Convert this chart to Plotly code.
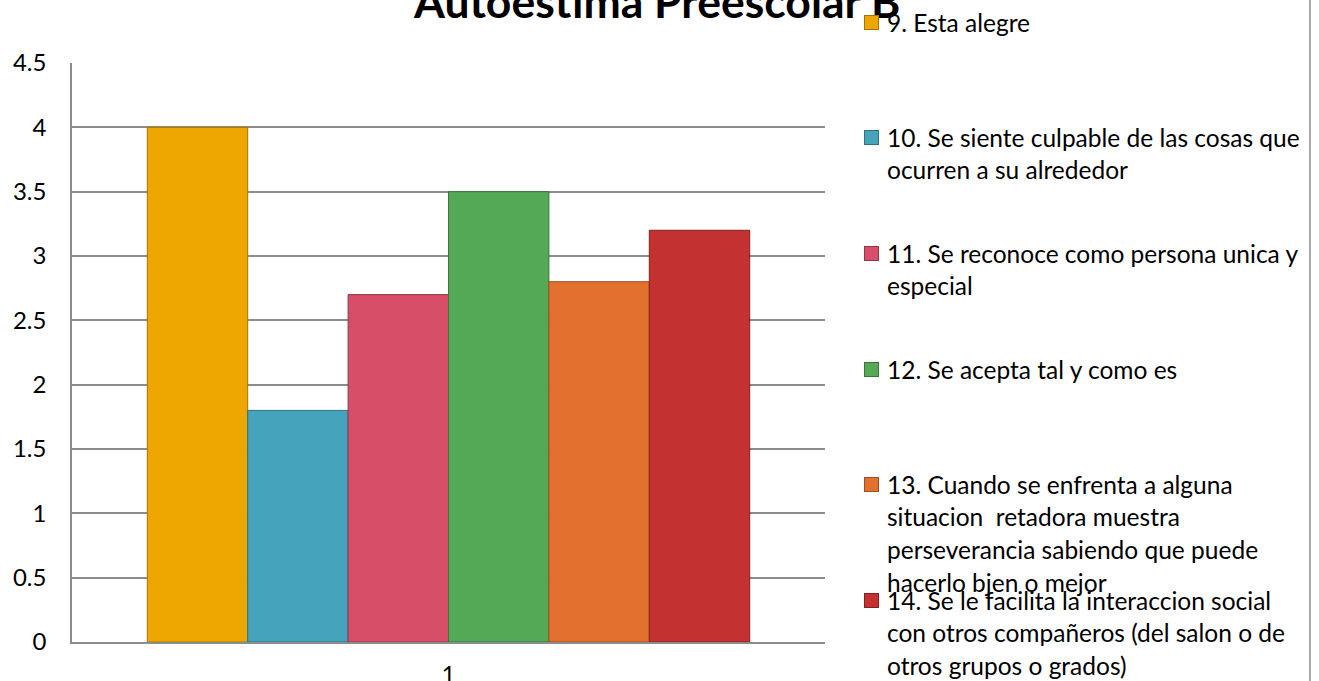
import plotly.graph_objects as go

# ---- data ----
categories = ["1"]
series_names = [
    "9. Esta alegre",
    "10. Se siente culpable de las cosas que\nocurren a su alrededor",
    "11. Se reconoce como persona unica y\nespecial",
    "12. Se acepta tal y como es",
    "13. Cuando se enfrenta a alguna\nsituacion  retadora muestra\nperseverancia sabiendo que puede\nhacerlo bjen o mejor",
    "14. Se le facilita la interaccion social\ncon otros compañeros (del salon o de\notros grupos o grados)",
]
series_values = [4.0, 1.8, 2.7, 3.5, 2.8, 3.2]
y_ticks = [0, 0.5, 1, 1.5, 2, 2.5, 3, 3.5, 4, 4.5]
y_tick_labels = ["0", "0.5", "1", "1.5", "2", "2.5", "3", "3.5", "4", "4.5"]
title_text = "Autoestima Preescolar B"

# ---- styling ----
colors = ["#EDA500", "#46A3BC", "#D64E67", "#53A956", "#E2712F", "#C33131"]
edge_colors = ["#A87400", "#2F7285", "#93364A", "#39753B", "#9E4E22", "#862020"]
FONT = "Lato, Carlito, Calibri, sans-serif"

W, H = 1319, 681
L, R, T, B = 72, 825, 63, 642  # plot area in pixels


def px_x(px):
    return (px - L) / (R - L)


def px_y(py):
    return (B - py) / (B - T)


fig = go.Figure()
for name, val, c, ec in zip(series_names, series_values, colors, edge_colors):
    fig.add_trace(go.Bar(
        x=categories, y=[val], name=name.replace("\n", " "),
        marker=dict(color=c, line=dict(color=ec, width=1)),
        showlegend=False,
    ))

annotations = []
# title
annotations.append(dict(
    text="<b>%s</b>" % title_text, x=px_x(656), y=px_y(1), xref="paper", yref="paper",
    xanchor="center", yanchor="middle", showarrow=False,
    font=dict(family=FONT, size=44.5, color="#000000"),
))

# legend (manual, as in the original overlapping layout)
first_line_y = [22, 137, 253, 369, 484, 600]
line_pitch = 32.7
for name, c, ec, y0 in zip(series_names, colors, edge_colors, first_line_y):
    annotations.append(dict(
        text=" ", x=px_x(871.5), y=px_y(y0), xref="paper", yref="paper",
        xanchor="center", yanchor="middle", showarrow=False,
        width=13, height=13, bgcolor=c, bordercolor=ec, borderwidth=1, borderpad=0,
        font=dict(size=4),
    ))
    for i, line in enumerate(name.split("\n")):
        annotations.append(dict(
            text=line, x=px_x(885), y=px_y(y0 + i * line_pitch), xref="paper", yref="paper",
            xanchor="left", yanchor="middle", showarrow=False,
            font=dict(family=FONT, size=24.5, color="#000000"),
        ))

fig.update_layout(
    width=W, height=H, autosize=False,
    margin=dict(l=L, r=W - R, t=T, b=H - B, pad=0),
    paper_bgcolor="white", plot_bgcolor="white",
    barmode="group", bargap=0.2, bargroupgap=0,
    font=dict(family=FONT, size=24, color="#000000"),
    annotations=annotations,
    shapes=[dict(type="line", xref="paper", yref="paper",
                 x0=px_x(1310), x1=px_x(1310), y0=px_y(0), y1=px_y(H),
                 line=dict(color="#8C8C8C", width=1.5))],
)
fig.update_xaxes(
    automargin=False,
    showgrid=False, showline=True, linecolor="#8C8C8C", linewidth=1.5,
    ticks="", tickfont=dict(family=FONT, size=24), ticklabelstandoff=10,
)
fig.update_yaxes(
    automargin=False,
    range=[0, 4.5], tickvals=y_ticks, ticktext=y_tick_labels,
    showgrid=True, gridcolor="#8C8C8C", gridwidth=1.5,
    showline=True, linecolor="#8C8C8C", linewidth=1.5, zeroline=False,
    ticks="", tickfont=dict(family=FONT, size=24), ticklabelstandoff=19,
)

fig.write_html(
    "out.html",
    config={"displayModeBar": False},
    post_script="document.body.style.margin='0';document.body.style.overflow='hidden';",
)
